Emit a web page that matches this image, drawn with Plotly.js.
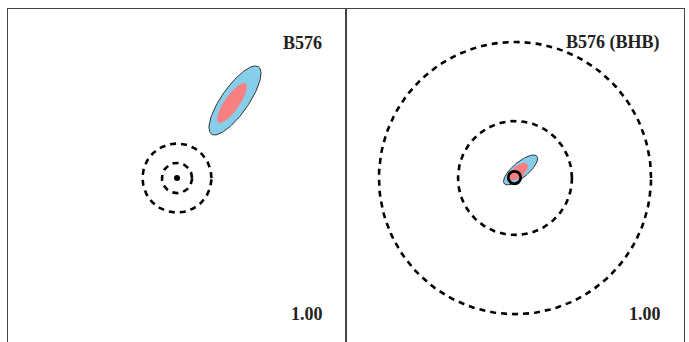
<!DOCTYPE html>
<html>
<head>
<meta charset="utf-8">
<script src="https://cdn.plot.ly/plotly-3.0.1.min.js"></script>
<style>html,body{margin:0;padding:0;background:#fff;overflow:hidden}#chart{width:689px;height:342px}</style>
</head>
<body>
<div id="chart"></div>
<script>
// Panel labels
const panelNames = ["B576", "B576 (BHB)"];
const panelValues = ["1.00", "1.00"];

// Dashed reference circles (radii, data units) per panel, centred at the origin
const circleRadiiLeft = [0.089, 0.204];
const circleRadiiRight = [0.337, 0.805];

// Confidence ellipses: [centerX, centerY, semiMajor, semiMinor, angleDeg]
const blueEllipseLeft = [0.343, 0.459, 0.243, 0.080, 55];
const redEllipseLeft  = [0.325, 0.444, 0.141, 0.044, 55];
const blueEllipseRight = [0.033, 0.048, 0.126, 0.046, 40];
const redEllipseRight  = [0.020, 0.038, 0.070, 0.034, 40];

// Reference points
const pointLeft = [0.0, 0.0];
const pointRight = [-0.003, 0.003];

function ellipsePts(p) {
  const [cx, cy, a, b, ang] = p;
  const t = ang * Math.PI / 180, xs = [], ys = [];
  for (let i = 0; i <= 120; i++) {
    const u = 2 * Math.PI * i / 120;
    const ex = a * Math.cos(u), ey = b * Math.sin(u);
    xs.push(cx + ex * Math.cos(t) - ey * Math.sin(t));
    ys.push(cy + ex * Math.sin(t) + ey * Math.cos(t));
  }
  return {x: xs, y: ys};
}
function circleTrace(r, xa, ya) {
  const e = ellipsePts([0, 0, r, r, 0]);
  return {x: e.x, y: e.y, xaxis: xa, yaxis: ya, mode: 'lines', hoverinfo: 'skip',
          line: {color: '#000', width: 2.6, dash: '6px,5px'}, showlegend: false};
}
function ellTrace(p, color, outline, xa, ya) {
  const e = ellipsePts(p);
  return {x: e.x, y: e.y, xaxis: xa, yaxis: ya, mode: 'lines', fill: 'toself', fillcolor: color,
          line: {color: outline ? '#333' : color, width: outline ? 1 : 0}, hoverinfo: 'skip', showlegend: false};
}

const traces = [];
circleRadiiLeft.forEach(r => traces.push(circleTrace(r, 'x', 'y')));
traces.push(ellTrace(blueEllipseLeft, '#87CEEB', true, 'x', 'y'));
traces.push(ellTrace(redEllipseLeft, '#F88080', false, 'x', 'y'));
traces.push({x: [pointLeft[0]], y: [pointLeft[1]], xaxis: 'x', yaxis: 'y', mode: 'markers',
             marker: {color: '#000', size: 6}, showlegend: false, hoverinfo: 'skip'});

circleRadiiRight.forEach(r => traces.push(circleTrace(r, 'x2', 'y2')));
traces.push(ellTrace(blueEllipseRight, '#87CEEB', true, 'x2', 'y2'));
traces.push(ellTrace(redEllipseRight, '#F88080', false, 'x2', 'y2'));
traces.push({x: [pointRight[0]], y: [pointRight[1]], xaxis: 'x2', yaxis: 'y2', mode: 'markers',
             marker: {color: 'rgba(0,0,0,0)', size: 12.5, line: {color: '#000', width: 2.8}}, showlegend: false, hoverinfo: 'skip'});

const xBase = {range: [-1, 1], showgrid: false, zeroline: false, showticklabels: false, ticks: '',
               side: 'top', showline: true, linecolor: '#444', linewidth: 1, mirror: false, fixedrange: true};
const yBase = {range: [-0.970, 1], showgrid: false, zeroline: false, showticklabels: false, ticks: '',
               showline: true, linecolor: '#444', linewidth: 1, mirror: true, fixedrange: true};

const font = {family: 'Liberation Serif, Times New Roman, serif', size: 18, color: '#222'};
const annotations = [];
[['x', 'y'], ['x2', 'y2']].forEach(([xa, ya], i) => {
  annotations.push({xref: xa, yref: ya, x: 0.872, y: 0.80, xanchor: 'right', yanchor: 'middle',
    text: '<b>' + panelNames[i] + '</b>', showarrow: false, font: font});
  annotations.push({xref: xa, yref: ya, x: 0.874, y: -0.805, xanchor: 'right', yanchor: 'middle',
    text: '<b>' + panelValues[i] + '</b>', showarrow: false, font: font});
});

const layout = {
  width: 689, height: 342,
  margin: {l: 8, r: 5, t: 9, b: 0, pad: 0},
  paper_bgcolor: '#fff', plot_bgcolor: '#fff',
  xaxis: Object.assign({}, xBase, {domain: [0, 0.5], anchor: 'y'}),
  yaxis: Object.assign({}, yBase, {domain: [0, 1], anchor: 'x'}),
  xaxis2: Object.assign({}, xBase, {domain: [0.5, 1], anchor: 'y2'}),
  yaxis2: Object.assign({}, yBase, {domain: [0, 1], anchor: 'x2'}),
  annotations: annotations,
  showlegend: false
};
Plotly.newPlot('chart', traces, layout, {staticPlot: true, displayModeBar: false});
</script>
</body>
</html>
